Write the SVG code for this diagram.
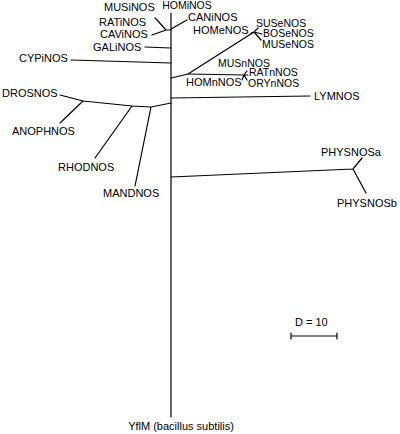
<svg xmlns="http://www.w3.org/2000/svg" width="400" height="434" viewBox="0 0 400 434">
<style>
text{font-family:"Liberation Sans",Arial,sans-serif;font-size:11px;fill:#000}
.s{font-size:10.5px}
.e{fill:none;stroke:#000;stroke-width:1.2;stroke-linecap:round;stroke-linejoin:round}
</style>
<rect width="400" height="434" fill="#fff"/>
<g id="connectors">
<path class="e" d="M171,13 V417"/>
<path class="e" d="M171,29 L187,20"/>
<path class="e" d="M171,30 L166,30 L157,20 M155,18 L159,22 M166,30 L152,35"/>
<path class="e" d="M145,47 L171,48"/>
<path class="e" d="M71,60 L171,63"/>
<path class="e" d="M171,78 L188,74 L254,32 M254,32 L251,33 M254,32 L258,28 M254,32 L262,34 M254,32 L261,40"/>
<path class="e" d="M188,74 L244,75 M244,75 L247,71 M244,75 L248,75 M244,75 L247,80 M244,75 L242,80"/>
<path class="e" d="M171,98 L310,96"/>
<path class="e" d="M171,103 L151,107 L132,106 L83,101 L60,95 M83,101 L60,123 M132,106 L95,158 M151,107 L135,186"/>
<path class="e" d="M171,177 L353,169 L362,158 M353,169 L366,193"/>
<path class="e" d="M291,336 H337 M291,333 V339 M337,333 V339"/>
</g>
<g id="HOMiNOS"><text class="s" x="187" y="8.5" text-anchor="middle">HOMiNOS</text></g>
<g id="CANiNOS"><text x="188" y="21">CANiNOS</text></g>
<g id="MUSiNOS"><text x="104" y="11">MUSiNOS</text></g>
<g id="RATiNOS"><text x="99" y="26">RATiNOS</text></g>
<g id="CAViNOS"><text x="100" y="38">CAViNOS</text></g>
<g id="GALiNOS"><text x="93" y="51">GALiNOS</text></g>
<g id="CYPiNOS"><text x="19" y="62">CYPiNOS</text></g>
<g id="HOMeNOS"><text x="193" y="34">HOMeNOS</text></g>
<g id="SUSeNOS"><text class="s" x="256" y="26.5">SUSeNOS</text></g>
<g id="BOSeNOS"><text class="s" x="263" y="37">BOSeNOS</text></g>
<g id="MUSeNOS"><text class="s" x="262" y="47.5">MUSeNOS</text></g>
<g id="MUSnNOS"><text class="s" x="218" y="66.5">MUSnNOS</text></g>
<g id="RATnNOS"><text class="s" x="249" y="76">RATnNOS</text></g>
<g id="HOMnNOS"><text x="186" y="86">HOMnNOS</text></g>
<g id="ORYnNOS"><text class="s" x="248" y="86.5">ORYnNOS</text></g>
<g id="LYMNOS"><text x="314" y="100">LYMNOS</text></g>
<g id="DROSNOS"><text x="2" y="97">DROSNOS</text></g>
<g id="ANOPHNOS"><text x="12" y="135">ANOPHNOS</text></g>
<g id="RHODNOS"><text x="58" y="171">RHODNOS</text></g>
<g id="MANDNOS"><text x="103" y="197">MANDNOS</text></g>
<g id="PHYSNOSa"><text x="321" y="156">PHYSNOSa</text></g>
<g id="PHYSNOSb"><text x="337" y="207">PHYSNOSb</text></g>
<g id="scale"><text x="295" y="326">D = 10</text></g>
<g id="YflM"><text x="181" y="430" text-anchor="middle">YflM (bacillus subtilis)</text></g>
</svg>
